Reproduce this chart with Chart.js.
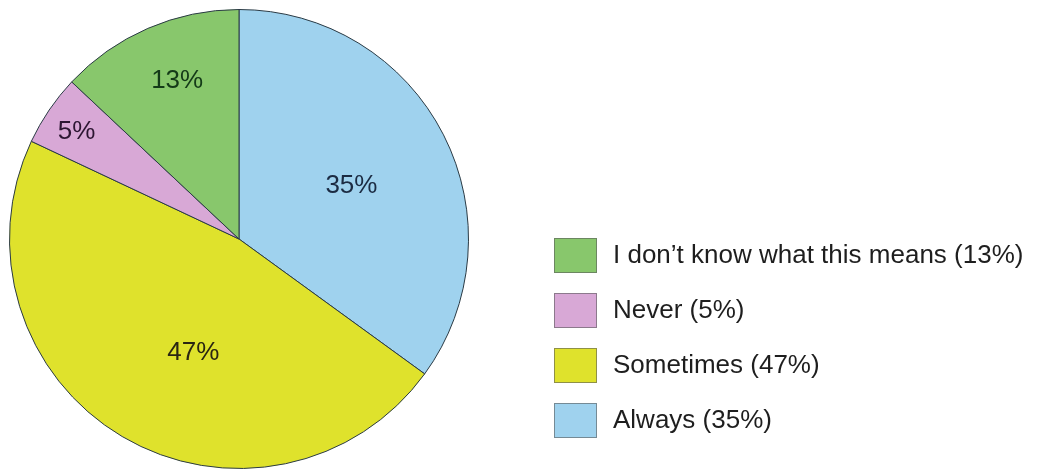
<!DOCTYPE html>
<html>
<head>
<meta charset="utf-8">
<script src="https://cdn.jsdelivr.net/npm/chart.js@4"></script>
<style>
  html, body { margin: 0; padding: 0; background: #ffffff; }
  #wrap { width: 1055px; height: 470px; }
</style>
</head>
<body>
<div id="wrap"><canvas id="myChart" width="1055" height="470"></canvas></div>
<script>
const categories = ["Always", "Sometimes", "Never", "I don\u2019t know what this means"];
const shares = [35, 47, 5, 13];
const sliceColors = ["#9fd2ee", "#dfe22c", "#d8a8d6", "#88c76c"];
const labelColors = ["#1b2b42", "#2a2612", "#2c1632", "#143a18"];

// where each % label sits: fraction along the arc, fraction of radius
const labelSpots = [[0.513, 0.542], [0.449, 0.533], [0.456, 0.848], [0.543, 0.739]];

const pctLabels = {
  id: "pctLabels",
  afterDatasetsDraw(chart) {
    const ctx = chart.ctx;
    const meta = chart.getDatasetMeta(0);
    ctx.save();
    ctx.font = "26px 'Liberation Sans', Arial, sans-serif";
    ctx.textAlign = "center";
    ctx.textBaseline = "middle";
    meta.data.forEach((arc, i) => {
      const p = arc.getProps(["x", "y", "startAngle", "endAngle", "outerRadius"], true);
      const a = p.startAngle + (p.endAngle - p.startAngle) * labelSpots[i][0];
      const r = p.outerRadius * labelSpots[i][1];
      ctx.fillStyle = labelColors[i];
      ctx.fillText(shares[i] + "%", p.x + Math.cos(a) * r, p.y + Math.sin(a) * r);
    });
    ctx.restore();
  }
};

const sideLegend = {
  id: "sideLegend",
  afterDraw(chart) {
    const ctx = chart.ctx;
    ctx.save();
    ctx.font = "26px 'Liberation Sans', Arial, sans-serif";
    ctx.textBaseline = "middle";
    const order = [3, 2, 1, 0];
    order.forEach((idx, row) => {
      const top = 238 + row * 55;
      ctx.fillStyle = sliceColors[idx];
      ctx.fillRect(554, top, 43, 35);
      ctx.strokeStyle = "rgba(90,90,90,0.6)";
      ctx.lineWidth = 1;
      ctx.strokeRect(554.5, top + 0.5, 42, 34);
      ctx.fillStyle = "#1e1e1e";
      ctx.fillText(categories[idx] + " (" + shares[idx] + "%)", 613, top + 18);
    });
    ctx.restore();
  }
};

const config = {
  type: "pie",
  data: {
    labels: categories,
    datasets: [
      {
        data: shares,
        backgroundColor: sliceColors,
        borderColor: "#2a3a44",
        borderWidth: 1
      }
    ]
  },
  options: {
    responsive: false,
    animation: false,
    layout: { padding: { left: 9, top: 9, right: 586, bottom: 1 } },
    plugins: {
      legend: { display: false },
      tooltip: { enabled: false }
    }
  },
  plugins: [pctLabels, sideLegend]
};

window.onload = () => {
  new Chart(document.getElementById("myChart"), config);
};
</script>
</body>
</html>
